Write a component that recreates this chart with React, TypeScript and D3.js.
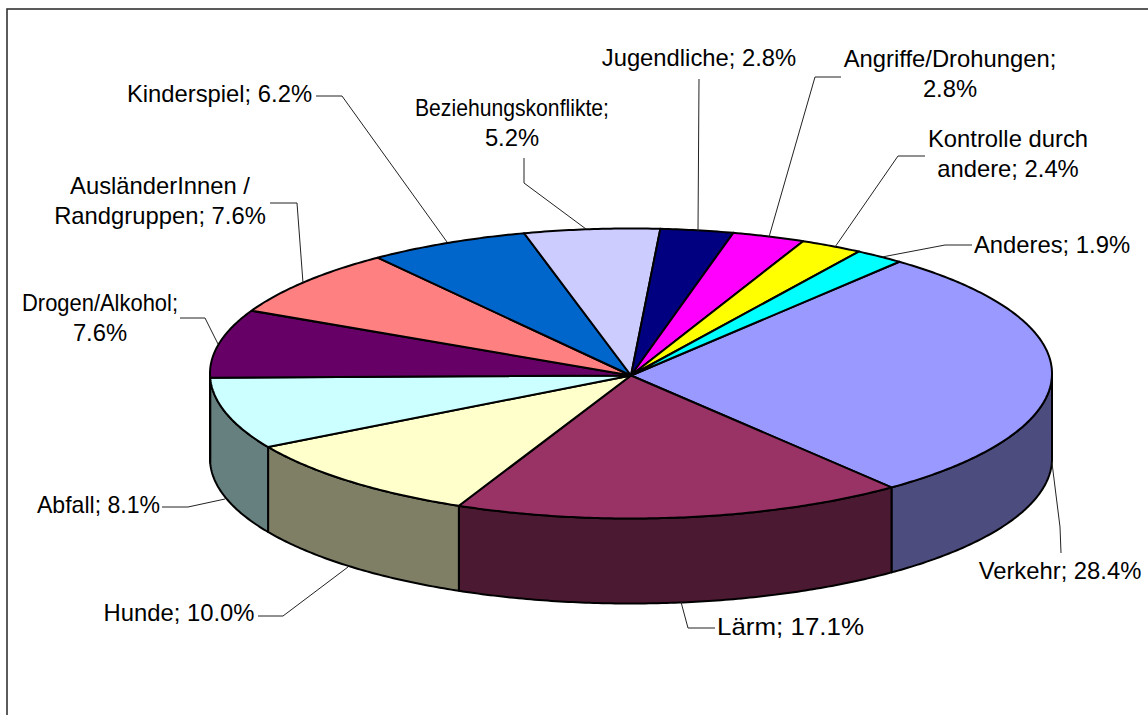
import React from "react";
import * as d3 from "d3";

// Data, clockwise from the upper right
const categories = ["Verkehr","Lärm","Hunde","Abfall","Drogen/Alkohol","AusländerInnen / Randgruppen","Kinderspiel","Beziehungskonflikte","Jugendliche","Angriffe/Drohungen","Kontrolle durch andere","Anderes"];
const shares = [28.4,17.1,10.0,8.1,7.6,7.6,6.2,5.2,2.8,2.8,2.4,1.9];
const topColors = ["#9999ff","#993366","#ffffcc","#ccffff","#660066","#ff8080","#0066cc","#ccccff","#000080","#ff00ff","#ffff00","#00ffff"];
const sideColors = ["#4c4c7f","#4c1933","#7f7f66","#667f7f","#330033","#7f4040","#003366","#66667f","#000040","#7f007f","#7f7f00","#007f7f"];

// Layout of the labels (separate from the data)
const labelLines: string[][] = [
  ["Verkehr; 28.4%"],["Lärm; 17.1%"],["Hunde; 10.0%"],["Abfall; 8.1%"],["Drogen/Alkohol;","7.6%"],["AusländerInnen /","Randgruppen; 7.6%"],["Kinderspiel; 6.2%"],["Beziehungskonflikte;","5.2%"],["Jugendliche; 2.8%"],["Angriffe/Drohungen;","2.8%"],["Kontrolle durch","andere; 2.4%"],["Anderes; 1.9%"],
];
const labelX = [1060,790.5,179,98.5,100,160,219.5,512,699,950,1008,1052];
const labelY = [578.7,634.7,620.7,512.7,310.7,193.7,101.7,115.7,65.5,66.7,146.5,252.5];
// first-line widths where the source renderer set the text tighter or wider
const fittedWidth: Record<string,number> = {"Lärm; 17.1%":147,"Beziehungskonflikte;":194,"Drogen/Alkohol;":156,"Abfall; 8.1%":123};
const leaders: [number,number][][] = [
  [[1061,553],[1060,527],[1052,463]],
  [[715,628],[688,628],[681,602]],
  [[258,616],[283,616],[348,567]],
  [[162,507],[188,507],[225,499]],
  [[180,318],[205,318],[218,344]],
  [[270,203],[297,203],[303,283]],
  [[316,96],[342,96],[447,242]],
  [[524,158],[524,183],[586,229]],
  [[699,79],[698,231]],
  [[841,77],[815,77],[769,237]],
  [[925,156],[898,156],[835,247]],
  [[972,245],[945,245],[882,257]],
];

const W = 1148, H = 715;
const cx = 631, cy = 373.5, rx = 421, ry = 145, depth = 85;
const apex: [number,number] = [631,375.5];
const startDeg = 39.6;
const FONT = "'Liberation Sans', Arial, sans-serif";
const FS = 23.8, LH = 30.5;

const pie = d3.pie<number>().sort(null).startAngle(startDeg*Math.PI/180).endAngle((startDeg+360)*Math.PI/180);
const arcs = pie(shares);
// small view distortion of the source's 3D projection, strongest at the front left
const warp = (a:number) => a + (0.9*Math.PI/180)*Math.exp(-Math.pow((a*180/Math.PI-205)/35,2));
const project = (a:number, dy=0):[number,number] => {
  const w = warp(a);
  return [cx+rx*Math.sin(w), cy-ry*Math.cos(w)+dy];
};
const sweep = (a0:number,a1:number,dy=0) => {
  const n = Math.max(2,Math.ceil((a1-a0)/0.01));
  return d3.range(n+1).map(i=>project(a0+(a1-a0)*i/n,dy));
};
const line = d3.line<[number,number]>();
const leaderLine = d3.line<[number,number]>();

export default function App(){
  const frontL = Math.PI/2, frontR = Math.PI*1.5;
  return (
    <svg width={W} height={H} viewBox={`0 0 ${W} ${H}`} style={{position:"fixed",left:0,top:0,display:"block",background:"#fff"}}>
      <rect x={7} y={9} width={W+10} height={H+10} fill="#fff" stroke="#333" strokeWidth={1.6}/>
      {arcs.map((d,i)=>{
        const a0=Math.max(d.startAngle,frontL), a1=Math.min(d.endAngle,frontR);
        if(a1<=a0) return null;
        const pts=[...sweep(a0,a1),...sweep(a0,a1,depth).reverse()];
        return <path key={"s"+i} d={line(pts)+"Z"} fill={sideColors[i]} stroke="#000" strokeWidth={2} strokeLinejoin="round"/>;
      })}
      {arcs.map((d,i)=>{
        const pts:[number,number][]=[apex,...sweep(d.startAngle,d.endAngle)];
        return <path key={"t"+i} d={line(pts)+"Z"} fill={topColors[i]} stroke="#000" strokeWidth={2} strokeLinejoin="round"/>;
      })}
      {leaders.map((l,i)=><path key={"l"+i} d={leaderLine(l)!} fill="none" stroke="#222" strokeWidth={1}/>)}
      {labelLines.map((ls,i)=>(
        <text key={categories[i]} fontFamily={FONT} fontSize={FS} fill="#000" textAnchor="middle">
          {ls.map((t,j)=><tspan key={j} x={labelX[i]} y={labelY[i]+j*LH} textLength={fittedWidth[t]} lengthAdjust="spacingAndGlyphs">{t}</tspan>)}
        </text>
      ))}
    </svg>
  );
}
